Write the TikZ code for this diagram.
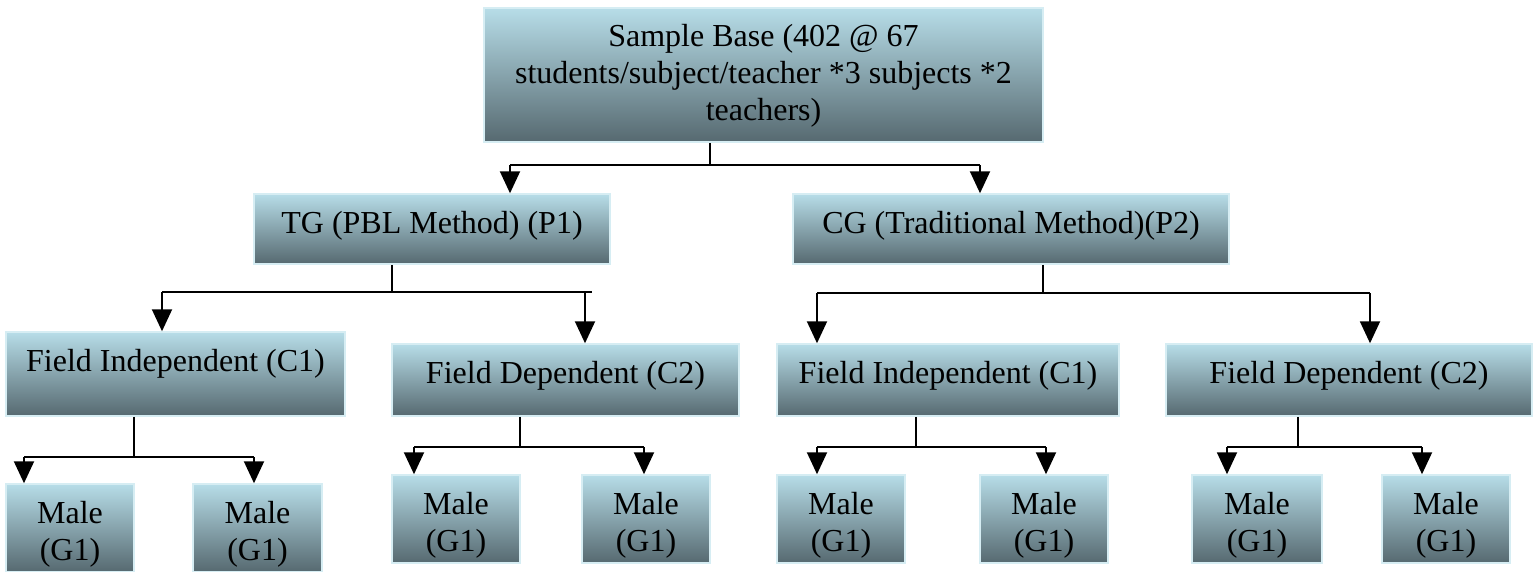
\documentclass[tikz,border=0pt]{standalone}
\usepackage{fontspec}
\setmainfont{Liberation Serif}
\usetikzlibrary{arrows.meta}
\definecolor{boxtop}{HTML}{B7DDE8}
\definecolor{boxbot}{HTML}{566970}
\definecolor{boxedge}{HTML}{D6EDF3}
\tikzset{
  gbox/.style={rectangle, draw=boxedge, line width=1.5pt, top color=boxtop, bottom color=boxbot,
    inner sep=0pt},
  gtext/.style={anchor=base, inner sep=0pt, align=center, font=\fontsize{32}{37}\selectfont, text=black},
  conn/.style={line width=2pt, black},
  arr/.style={conn, -{Triangle[width=20pt,length=22pt]}}
}
\begin{document}
\begin{tikzpicture}[x=1pt,y=-1pt]
\useasboundingbox (0,0) rectangle (1538,571);
% boxes
\node[gbox, minimum width=559pt, minimum height=134pt] (top) at (763.5,75) {};
\node[gbox, minimum width=356pt, minimum height=70pt] (tg) at (432,229) {};
\node[gbox, minimum width=436pt, minimum height=70pt] (cg) at (1011,229) {};
\node[gbox, minimum width=339pt, minimum height=84pt] (fi1) at (175.5,374) {};
\node[gbox, minimum width=347pt, minimum height=72pt] (fd1) at (565.5,380) {};
\node[gbox, minimum width=342pt, minimum height=72pt] (fi2) at (948,380) {};
\node[gbox, minimum width=366pt, minimum height=72pt] (fd2) at (1349,380) {};
\node[gbox, minimum width=128pt, minimum height=88pt] (m1) at (70,528) {};
\node[gbox, minimum width=129pt, minimum height=88pt] (m2) at (257.5,528) {};
\node[gbox, minimum width=128pt, minimum height=88pt] (m3) at (456,519) {};
\node[gbox, minimum width=128pt, minimum height=88pt] (m4) at (646,519) {};
\node[gbox, minimum width=128pt, minimum height=88pt] (m5) at (841,519) {};
\node[gbox, minimum width=128pt, minimum height=88pt] (m6) at (1044,519) {};
\node[gbox, minimum width=130pt, minimum height=88pt] (m7) at (1257,519) {};
\node[gbox, minimum width=128pt, minimum height=88pt] (m8) at (1446,519) {};
% texts (anchor base = baseline of last line)
\node[gtext] (topt) at ([yshift=-113pt]top.north) {Sample Base (402 @ 67\\students/subject/teacher *3 subjects *2\\teachers)};
\node[gtext] (tgt) at ([yshift=-40pt]tg.north) {TG (PBL Method) (P1)};
\node[gtext] (cgt) at ([yshift=-40pt]cg.north) {CG (Traditional Method)(P2)};
\node[gtext] (fi1t) at ([yshift=-40pt]fi1.north) {Field Independent (C1)};
\node[gtext] (fd1t) at ([yshift=-40pt]fd1.north) {Field Dependent (C2)};
\node[gtext] (fi2t) at ([yshift=-40pt]fi2.north) {Field Independent (C1)};
\node[gtext] (fd2t) at ([yshift=-40pt]fd2.north) {Field Dependent (C2)};
\foreach \m in {m1,m2,m3,m4,m5,m6,m7,m8}{
  \node[gtext] (\m t) at ([yshift=-77pt]\m.north) {Male\\(G1)};
}
% level 0 connectors
\coordinate (s0) at (710,165);
\coordinate (a0l) at (510,165);
\coordinate (a0r) at (980,165);
\draw[conn] (top.south -| s0) -- (s0);
\draw[conn] (a0l) -- (a0r);
\draw[arr] (a0l) -- (tg.north -| a0l);
\draw[arr] (a0r) -- (cg.north -| a0r);
% TG
\coordinate (s1) at (392,292);
\coordinate (a1l) at (162,292);
\coordinate (a1r) at (585,292);
\coordinate (e1r) at (592,292);
\draw[conn] (tg.south -| s1) -- (s1);
\draw[conn] (a1l) -- (e1r);
\draw[arr] (a1l) -- (fi1.north -| a1l);
\draw[arr] (a1r) -- (fd1.north -| a1r);
% CG
\coordinate (s2) at (1043,293);
\coordinate (a2l) at (817,293);
\coordinate (a2r) at (1370,293);
\draw[conn] (cg.south -| s2) -- (s2);
\draw[conn] (a2l) -- (a2r);
\draw[arr] (a2l) -- (fi2.north -| a2l);
\draw[arr] (a2r) -- (fd2.north -| a2r);
% FI1
\coordinate (s3) at (134,457);
\coordinate (a3l) at (24,457);
\coordinate (a3r) at (254,457);
\draw[conn] (fi1.south -| s3) -- (s3);
\draw[conn] (a3l) -- (a3r);
\draw[arr] (a3l) -- (m1.north -| a3l);
\draw[arr] (a3r) -- (m2.north -| a3r);
% FD1
\coordinate (s4) at (520,447);
\coordinate (a4l) at (414,447);
\coordinate (a4r) at (644,447);
\draw[conn] (fd1.south -| s4) -- (s4);
\draw[conn] (a4l) -- (a4r);
\draw[arr] (a4l) -- (m3.north -| a4l);
\draw[arr] (a4r) -- (m4.north -| a4r);
% FI2
\coordinate (s5) at (916,447);
\coordinate (a5l) at (817,447);
\coordinate (a5r) at (1046,447);
\draw[conn] (fi2.south -| s5) -- (s5);
\draw[conn] (a5l) -- (a5r);
\draw[arr] (a5l) -- (m5.north -| a5l);
\draw[arr] (a5r) -- (m6.north -| a5r);
% FD2
\coordinate (s6) at (1298,447);
\coordinate (a6l) at (1227,447);
\coordinate (a6r) at (1422,447);
\draw[conn] (fd2.south -| s6) -- (s6);
\draw[conn] (a6l) -- (a6r);
\draw[arr] (a6l) -- (m7.north -| a6l);
\draw[arr] (a6r) -- (m8.north -| a6r);
\end{tikzpicture}
\end{document}
